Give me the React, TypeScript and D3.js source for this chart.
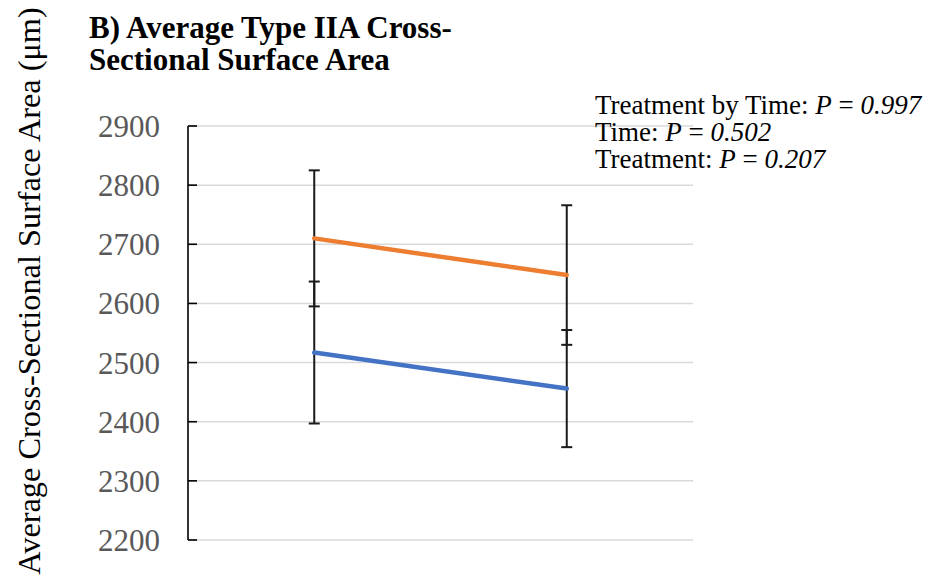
import React from "react";
import * as d3 from "d3";

// Time points (no axis labels are drawn for them)
const timePoints = ["Pre", "Post"];

// Group means and error (± SD) at each time point
const groupOrangeMeans = [2710, 2648];
const groupOrangeErrors = [115, 118];
const groupBlueMeans = [2517, 2456];
const groupBlueErrors = [120, 99];

const yTicks = [2200, 2300, 2400, 2500, 2600, 2700, 2800, 2900];

const titleLines = ["B) Average Type IIA Cross-", "Sectional Surface Area"];
const yAxisTitle = "Average Cross-Sectional Surface Area (\u03bcm)";

const statLines = [
  { label: "Treatment by Time: ", p: "0.997" },
  { label: "Time: ", p: "0.502" },
  { label: "Treatment: ", p: "0.207" },
];

const W = 926;
const H = 579;
const plotLeft = 188;
const plotRight = 693;
const plotTop = 126;
const plotBottom = 540;
const serif = "'Liberation Serif', 'Times New Roman', serif";

export default function App() {
  const y = d3.scaleLinear().domain([2200, 2900]).range([plotBottom, plotTop]);
  const xBand = d3.scaleBand().domain(timePoints).range([plotLeft, plotRight]);
  const x = (c: string) => (xBand(c) as number) + xBand.bandwidth() / 2;

  const line = d3
    .line<number>()
    .x((_, i) => x(timePoints[i]))
    .y((v) => y(v));

  const series = [
    { means: groupOrangeMeans, errors: groupOrangeErrors, color: "#ED7D31" },
    { means: groupBlueMeans, errors: groupBlueErrors, color: "#4472C4" },
  ];

  const capHalf = 5.5;

  return (
    <svg
      width={W}
      height={H}
      style={{ position: "absolute", left: 0, top: 0, background: "#fff" }}
    >
      {/* gridlines */}
      {yTicks.map((t) => (
        <line
          key={"g" + t}
          x1={plotLeft}
          x2={plotRight}
          y1={y(t)}
          y2={y(t)}
          stroke="#d9d9d9"
          strokeWidth={1.5}
        />
      ))}

      {/* y axis line and inside ticks */}
      <line x1={plotLeft} x2={plotLeft} y1={plotTop} y2={plotBottom} stroke="#000" strokeWidth={1.6} />
      {yTicks.map((t) => (
        <line
          key={"t" + t}
          x1={plotLeft}
          x2={plotLeft + 9}
          y1={y(t)}
          y2={y(t)}
          stroke="#000"
          strokeWidth={1.6}
        />
      ))}

      {/* tick labels */}
      {yTicks.map((t) => (
        <text
          key={"l" + t}
          x={160}
          y={y(t) + 11}
          textAnchor="end"
          fontFamily={serif}
          fontSize={31}
          fill="#595959"
        >
          {t}
        </text>
      ))}

      {/* error bars */}
      {series.map((s, si) =>
        s.means.map((m, i) => {
          const cx = x(timePoints[i]);
          const hi = y(m + s.errors[i]);
          const lo = y(m - s.errors[i]);
          return (
            <g key={`e${si}-${i}`} stroke="#1a1a1a" strokeWidth={2}>
              <line x1={cx} x2={cx} y1={hi} y2={lo} />
              <line x1={cx - capHalf} x2={cx + capHalf} y1={hi} y2={hi} />
              <line x1={cx - capHalf} x2={cx + capHalf} y1={lo} y2={lo} />
            </g>
          );
        })
      )}

      {/* mean lines */}
      {series.map((s, si) => (
        <path
          key={"s" + si}
          d={line(s.means) || ""}
          fill="none"
          stroke={s.color}
          strokeWidth={4.5}
          strokeLinecap="round"
        />
      ))}

      {/* chart title */}
      {titleLines.map((t, i) => (
        <text
          key={"title" + i}
          x={89}
          y={37.5 + i * 32}
          fontFamily={serif}
          fontWeight="bold"
          fontSize={31}
          fill="#000"
        >
          {t}
        </text>
      ))}

      {/* y axis title */}
      <text
        transform={`translate(40, 291) rotate(-90)`}
        textAnchor="middle"
        fontFamily={serif}
        fontSize={32.3}
        fill="#000"
      >
        {yAxisTitle}
      </text>

      {/* statistics annotation */}
      {statLines.map((s, i) => (
        <text
          key={"st" + i}
          x={595}
          y={114 + i * 27}
          fontFamily={serif}
          fontSize={27}
          fill="#000"
        >
          {s.label}
          <tspan fontStyle="italic">P</tspan>
          {" = "}
          <tspan fontStyle="italic">{s.p}</tspan>
        </text>
      ))}
    </svg>
  );
}
